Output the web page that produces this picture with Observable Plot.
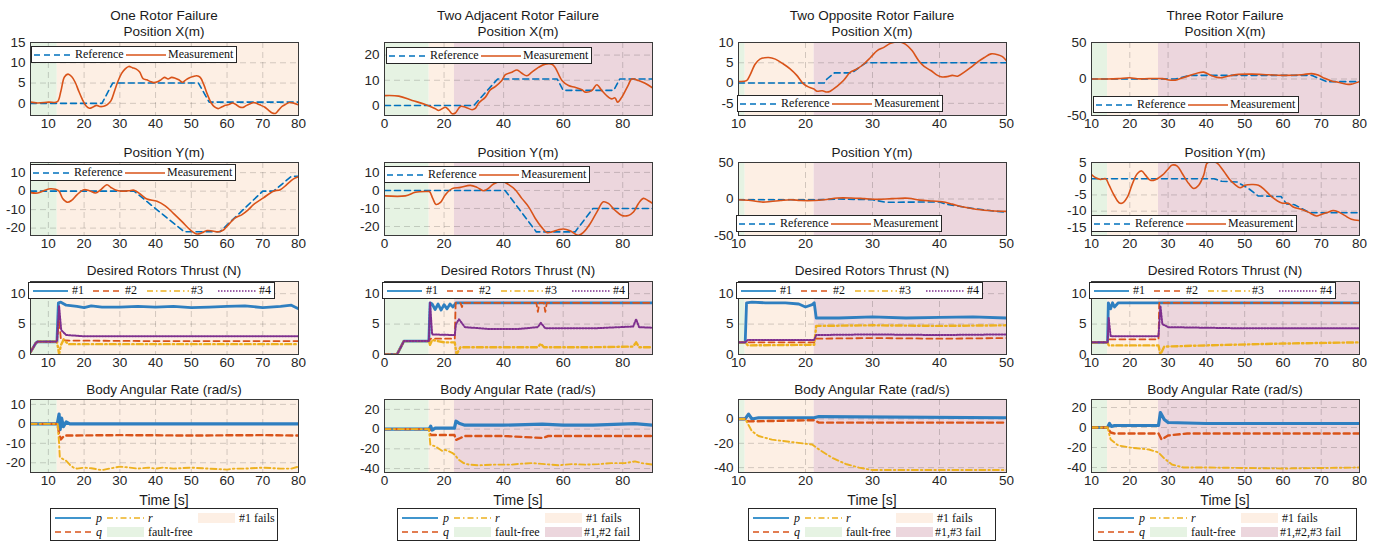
<!DOCTYPE html>
<html><head><meta charset="utf-8">
<script src="https://cdn.jsdelivr.net/npm/d3@7"></script>
<script src="https://cdn.jsdelivr.net/npm/@observablehq/plot@0.6"></script>
<style>
body{margin:0;background:#fff;}
#fig{position:relative;width:1383px;height:541px;overflow:hidden;font-family:"Liberation Sans",Arial,sans-serif;}
#fig svg.panel{position:absolute;}
.ttl{position:absolute;transform:translate(-50%,-50%);font-size:13.5px;color:#1a1a1a;white-space:nowrap;}
.lg{position:absolute;background:#fff;border:1px solid #262626;box-sizing:border-box;font-family:"Liberation Serif","Times New Roman",serif;font-size:12px;color:#111;}
.lg .it{position:absolute;white-space:nowrap;line-height:12px;}
.lg svg{position:absolute;}
</style></head><body><div id="fig"></div>
<script>
// ---------------- DATA ----------------
const colTitles = ["One Rotor Failure","Two Adjacent Rotor Failure","Two Opposite Rotor Failure","Three Rotor Failure"];
const rowTitles = ["Position X(m)","Position Y(m)","Desired Rotors Thrust (N)","Body Angular Rate (rad/s)"];
const phaseLabels = [["fault-free","#1 fails"],["fault-free","#1 fails","#1,#2 fail"],["fault-free","#1 fails","#1,#3 fail"],["fault-free","#1 fails","#1,#2,#3 fail"]];

// time domains, ticks and phase boundaries (s)
const xDomains = [[5,80],[0,90],[10,50],[10,80]];
const xTicks = [[10,20,30,40,50,60,70,80],[0,20,40,60,80],[10,20,30,40,50],[10,20,30,40,50,60,70,80]];
const phaseBounds = [[5,12.5,80],[0,15,23.5,90],[10,11,21.3,50],[10,14.2,27.5,80]];

// y domains and ticks, per row then column
const yDomains = [
  [[-3,15],[-4,25],[-8,10],[-50,50]],
  [[-24,15.5],[-25,15.5],[-50,50],[-17.5,5]],
  [[0,12],[0,12],[0,12],[0,12]],
  [[-25,12.5],[-44,30],[-44,16],[-45,28]]
];
const yTicks = [
  [[0,5,10,15],[0,10,20],[-5,0,5,10],[-50,0,50]],
  [[-20,-10,0,10],[-20,-10,0,10],[-50,0,50],[-15,-10,-5,0,5]],
  [[0,5,10],[0,5,10],[0,5,10],[0,5,10]],
  [[-20,-10,0,10],[-40,-20,0,20],[-40,-20,0],[-40,-20,0,20]]
];

// ---- Position X ----
const oneX_ref = [[5,0],[25,0],[28,5],[52,5],[55,0.3],[80,0.3]];
const oneX_meas = [[5,0.3],[7,0.1],[10,0.3],[12.5,0.4],[13.5,3],[14.5,6.5],[15.5,7.2],[16.5,6.6],[17.5,5.2],[18.5,3],[19.5,1],[20.5,-0.6],[21.5,-1.2],[22.5,-0.9],[23.5,-0.5],[24.5,-0.8],[25.5,-0.7],[26.5,-0.3],[27.5,0.6],[28.5,3],[29.5,5.5],[30.5,7.4],[31.5,8.5],[32.5,9.1],[33.5,8.8],[34.5,8.5],[35.5,7.8],[36.5,6.1],[37.5,5.8],[38.5,5.4],[39.5,5.1],[40.5,5.3],[41.5,5.8],[42.5,6.4],[43.5,6.0],[44.5,6.4],[45.5,6.2],[46.5,5.8],[47.5,5.2],[48.5,5.8],[49.5,6.3],[50.5,6.6],[51.5,6.8],[52.5,6.4],[53.5,4.6],[54.5,2.2],[55.5,0.2],[56.5,-0.9],[57.5,-1.3],[58.5,-0.9],[59.5,-0.5],[60.5,-0.3],[61.5,0.1],[62.5,-0.3],[63.5,-0.9],[64.5,-1.0],[65.5,-0.5],[66.5,-0.1],[67.5,0.2],[68.5,-0.1],[69.5,-0.5],[70.5,-0.9],[71.5,-1.6],[72.5,-2.3],[73.5,-2.5],[74.5,-1.6],[75.5,-0.7],[76.5,-0.2],[77.5,0.2],[78.5,0.1],[80,-0.4]];
const adjX_ref = [[0,0],[30,0],[38,10.5],[58,10.5],[60,6],[77,6],[79,10.5],[90,10.5]];
const adjX_meas = [[0,3.9],[4.8,3.7],[9.3,2],[13.7,0.4],[17.1,-1.3],[18.2,-2],[20.4,-0.7],[21.6,-1.8],[22.7,-3.3],[23.8,-3],[25.5,-0.4],[27.2,-0.7],[29.4,-1.7],[30.5,-1.2],[31.6,0.9],[33.9,3.3],[35.5,6.2],[37.2,7.5],[39.4,9.9],[40.6,12.2],[42.8,13.2],[44.5,14.1],[46.1,12.8],[47.8,11.8],[49.5,13.2],[51.7,15.1],[54,16.4],[56.2,16.4],[57.3,15.1],[59.6,9.9],[61.8,7.9],[64,7.2],[66.3,6.2],[67.4,5.3],[69.6,5.9],[71.3,8.2],[73,5.9],[75.2,3.3],[76.3,2.6],[77.4,3],[78.3,1.3],[79.7,3.3],[81.9,8.2],[83,10.5],[85.3,9.9],[87.5,8.8],[90,7]];
const oppX_ref = [[10,0],[22.8,0],[23.2,1],[24.3,2.5],[26.9,2.5],[29,5],[50,5]];
const oppX_meas = [[10,0.4],[11.2,0.6],[11.7,1.9],[12.5,4.7],[13.2,5.9],[14.5,6.3],[15.5,5.9],[16.7,4.7],[17.7,3.5],[18.7,1.9],[19.7,-0.2],[20.5,-1],[21.2,-1.4],[21.7,-2],[22.5,-1.9],[23.2,-2.2],[23.7,-2],[24.7,-0.8],[25.7,0.7],[26.7,2.7],[27.7,3.5],[28.7,4.7],[29.7,6.3],[30.7,8],[31.7,8.8],[32.7,9.8],[33.9,10.2],[34.9,9.6],[35.9,8],[36.9,5.5],[37.7,4.1],[38.7,3.1],[39.7,1.9],[40.4,1.5],[41.2,1.6],[41.9,1.9],[42.7,1.7],[43.7,2.7],[44.7,3.9],[45.7,5.2],[46.7,6.3],[47.7,7.2],[48.7,7],[49.4,6.5],[50,5.5]];
const thrX_ref = [[10,0],[31.9,0],[35.8,5],[67.5,5],[71.4,-3.6],[80,-3.6]];
const thrX_meas = [[10,0],[14,0],[17,0.5],[20,1.8],[22,0.3],[25,0.5],[28.5,0.5],[30.2,-1.3],[31.9,-1.5],[33.7,1.5],[35.8,5],[38,8.5],[39.3,9.4],[41,5.5],[42.8,2.2],[44.1,1.8],[45.8,4],[48.4,6.3],[51.9,6.7],[56.2,5.8],[60.5,4.9],[64.9,5.8],[67.5,7.4],[69.2,5.4],[70.9,0.9],[72.7,-2.7],[74.4,-4.5],[76.6,-7.2],[77.9,-7],[80,-3.5]];

// ---- Position Y ----
const oneY_ref = [[5,0],[34,0],[48,-22],[58,-22],[70,0],[73,0],[78,8],[80,8]];
const oneY_meas = [[5,-0.8],[7,-1],[9,0.5],[10.6,1.3],[12,1],[13,0],[14,-4],[15.3,-6],[16.5,-5],[18,-2],[19.9,0.8],[21.5,0.2],[23.2,-1],[24.5,0.5],[26.4,3.5],[27.5,2],[28.8,0.6],[30.5,0],[32.5,0.2],[34,0.5],[36,-2],[37.6,-4.3],[40.4,-5.5],[42.7,-8],[45,-12],[47.4,-16.5],[49.7,-21],[51.6,-23.2],[53,-22.5],[54.4,-21.3],[56,-21.6],[57.6,-22],[59,-21],[60,-19],[62.3,-14.5],[64.2,-12.7],[66,-10],[67.4,-7.3],[70.2,-3.6],[73,0],[74.9,0.8],[76.7,3.5],[78.5,6.5],[80,7.8]];
const adjY_ref = [[0,0],[40.5,0],[51,-23],[64,-23],[70,-10],[90,-10]];
const adjY_meas = [[0,-3],[7,-3],[10.4,-1],[14.3,-0.6],[15.1,-0.6],[16.2,-4.4],[17.3,-7.8],[18.8,-6.6],[20.4,-2.5],[22.7,1],[25.5,1.7],[28.8,2.8],[31.1,1.7],[33.3,-0.2],[35,1.3],[36.6,3.6],[39.4,5.1],[41.7,3.2],[43.9,0.4],[46.1,-4.4],[48.4,-9.1],[50.6,-15.4],[52.8,-20.5],[54.5,-23.3],[56.2,-23],[58.4,-21.8],[60.1,-21.4],[62.3,-22.4],[65.1,-24.9],[66.8,-23.3],[69,-18.6],[71.3,-12],[73.5,-6.3],[75.2,-7.2],[77.4,-11],[79.7,-13.9],[81.9,-13.9],[83.6,-12],[85.3,-7.2],[86.9,-4.4],[88.6,-5.7],[90,-7.2]];
const oppY_ref = [[10,-1],[22,-1],[25,0],[30,-1],[32,-4.5],[40,-4],[41,-7],[45,-13],[48,-16.5],[50,-18]];
const oppY_meas = [[10,-1],[11.8,-2],[13.5,-4.2],[14.8,-3.5],[16.3,-2],[17.8,-1],[19.3,-2],[21.3,-2],[22.8,-1],[24.8,1.4],[26.8,1.4],[28.8,0.5],[30.8,-0.5],[32.9,0.5],[35.4,1],[37,-1.5],[39,-2.8],[40.4,-3.7],[41.9,-7],[43.4,-10.7],[45.4,-14],[47.4,-15.8],[48.9,-16.7],[50,-17]];
const thrY_ref = [[10,0],[42,0],[44,-0.8],[48,-1],[51,-3],[53.5,-5.3],[59.5,-5.5],[61,-7.8],[63,-8],[67,-10.5],[80,-10.5]];
const thrY_meas = [[10,1.3],[11.1,0.3],[12.4,-0.2],[13.7,0],[14.6,-2],[15.9,-5.1],[17.2,-7.4],[18.1,-7.5],[19.4,-5.6],[20.7,-1.5],[22,1.6],[23.1,2.4],[24.1,1.1],[25.4,-0.5],[26.7,-0.3],[28.5,1.1],[29.8,2.7],[31.1,4.2],[32.4,3.9],[33.7,1.6],[35.4,-1.5],[36.7,-3],[38,-2],[39.3,1.1],[40.2,4.8],[41.5,5.3],[42.8,4.8],[44.5,2.4],[46.2,-0.4],[47.5,-1.8],[48.8,-2.8],[50.1,-2],[51.8,-1.8],[53.6,-2],[55.3,-3.5],[57.1,-5.6],[59.7,-7.5],[61.4,-7.6],[62.7,-8.7],[64.9,-9.5],[66.6,-10.3],[68.8,-11.5],[70,-11],[71.8,-10.3],[73.1,-9.8],[74.4,-10.2],[76.1,-11.3],[77.9,-12.5],[80,-12.9]];

// ---- Desired rotor thrust #1..#4 ----
const oneT1 = [[5,0.4],[6.5,1.9],[7,2.1],[12.4,2.1],[12.8,8.5],[13.5,8.6],[15,8.1],[18,7.9],[20,7.7],[22,8],[25,7.8],[30,7.8],[35,7.9],[40,7.8],[45,7.9],[50,7.7],[55,7.8],[60,7.9],[65,8],[70,7.7],[75,7.9],[78,8.1],[80,7.5]];
const oneT2 = [[5,0.4],[6.5,1.9],[7,2.1],[12.4,2.1],[13,6],[13.5,2.5],[15,2.3],[40,2.2],[80,2.2]];
const oneT3 = [[5,0.4],[6.5,1.9],[7,2.1],[12.4,2.1],[13,0.1],[13.5,1.5],[14.3,2.5],[15.5,1.7],[40,1.7],[80,1.7]];
const oneT4 = [[5,0.4],[6.5,1.9],[7,2.1],[12.4,2.1],[13,8],[13.6,4],[15,3.2],[20,3],[80,3]];
const adjT1 = [[0,0],[4.2,0],[6.5,2.2],[14.9,2.2],[15.3,8.5],[16,8.3],[17,7.4],[18,8.3],[19,7.3],[20,8.2],[21,7.5],[22,8.3],[23,7.8],[24,8.5],[90,8.5]];
const adjT2 = [[0,0],[4.2,0],[6.5,2.2],[14.9,2.2],[15.5,2.6],[23.6,2.6],[23.9,8.5],[25.5,8.5],[26,7.8],[26.6,8.5],[51,8.5],[51.5,7],[52,8.5],[53.5,8.5],[54,7],[54.5,8.5],[90,8.5]];
const adjT3 = [[0,0],[4.2,0],[6.5,2.2],[14.9,2.2],[15.3,1.6],[16,2.4],[20,2],[23.6,2],[24.2,0],[25.5,1.2],[40,1.2],[51.5,1.2],[52.5,1.8],[53.5,1.2],[70,1.2],[83.5,1.3],[84.5,2],[85.5,1.2],[90,1.2]];
const adjT4 = [[0,0],[4.2,0],[6.5,2.2],[14.9,2.2],[15.3,8.5],[16,3.3],[23.6,3.2],[24,5],[25,5.8],[27,4.5],[35,4.2],[45,4.2],[51.5,4.5],[52.5,5.2],[54,4.3],[70,4.3],[83.5,4.6],[84.5,5.8],[85.5,4.5],[90,4.4]];
const oppT1 = [[10,2],[11,2],[11.2,8.5],[12,8.6],[14,8.5],[17,8.5],[19,8.3],[20,7.8],[21,8.2],[21.3,8.5],[21.6,6],[25,6],[30,6.2],[35,6],[40,6.1],[45,6.2],[50,6]];
const oppT2 = [[10,2],[11,2],[11.4,2],[21.3,2],[21.6,2.6],[30,2.7],[40,2.6],[50,2.7]];
const oppT3 = [[10,2],[11,2],[11.4,1.5],[21.3,1.6],[21.6,4.7],[30,4.8],[40,4.7],[50,4.8]];
const oppT4 = [[10,2],[11,2],[11.4,2.4],[21.3,2.4],[21.6,3.2],[30,3.3],[40,3.2],[50,3.3]];
const thrT1 = [[10,2],[14.2,2],[14.4,8.5],[15,7.5],[15.5,8.5],[16,7.8],[17,8.5],[80,8.5]];
const thrT2 = [[10,2],[14.2,2],[14.5,2.5],[27.5,2.5],[27.7,8.5],[80,8.5]];
const thrT3 = [[10,2],[14.2,2],[14.5,1.5],[27.5,1.5],[28,0],[29,1.3],[40,1.5],[60,1.8],[80,2]];
const thrT4 = [[10,2],[14.2,2],[14.5,6],[15,3],[27.5,3],[28,8],[28.5,5],[30,4.5],[50,4.3],[80,4.3]];

// ---- Body angular rate p, q, r ----
const oneP = [[5,0],[12.5,0],[13,5],[13.3,-3],[13.7,3],[14.2,-1.5],[15,1],[16,0],[80,0]];
const oneQ = [[5,0],[12.5,0],[13,-5],[13.5,-8],[14.5,-6],[16,-6],[30,-5.8],[50,-6],[70,-5.8],[80,-6]];
const oneR = [[5,0],[12.6,0],[13,-10],[13.2,-17],[14,-18],[15,-19],[16,-21],[17,-22.5],[18,-23],[20,-22.5],[22,-22.8],[25,-23.8],[27,-23],[30,-22],[32,-22.3],[35,-23],[38,-22.5],[40,-23],[42,-22.5],[45,-23],[50,-22.5],[55,-23],[60,-23.5],[62,-23],[65,-23],[70,-22.5],[75,-23],[78,-23],[80,-22]];
const adjP = [[0,0],[15,0],[15.5,3],[16,-1],[17,1],[23.5,1],[24,8],[25,6],[27,4],[40,4],[53,5],[60,4],[70,4],[84,5.5],[90,4]];
const adjQ = [[0,0],[15,0],[15.5,-6],[17,-6],[23.5,-6],[24,-11],[25.5,-9],[27,-7],[40,-7],[53,-9],[55,-7],[70,-7],[90,-7]];
const adjR = [[0,0],[14.9,0],[15.4,-16],[17.1,-17.5],[19.3,-22],[20.4,-21],[22.7,-24],[23.6,-26],[24.9,-31],[26.6,-34.5],[28.3,-36],[31.6,-36.7],[37.2,-36],[42.8,-36],[46.1,-35],[49.5,-34.5],[54,-35.5],[58.4,-36.7],[62.9,-35.5],[67.4,-36],[71.8,-35.5],[76.3,-34.5],[80.8,-34.5],[84.1,-32.7],[86.4,-34.5],[90,-36]];
const oppP = [[10,0],[11,0],[11.5,4],[12,0],[13,1],[21.3,1],[22,2],[50,1]];
const oppQ = [[10,0],[11,0],[11.5,-2],[21.3,-1],[22,-3],[50,-3]];
const oppR = [[10,0],[11,0],[11.5,-5],[12,-10],[13,-14],[15,-17],[18,-19],[21,-21],[22,-25],[24,-32],[26,-37],[28,-40],[30,-42],[40,-42],[50,-42]];
const thrP = [[10,0],[14.2,0],[14.7,4],[15.2,1],[16,2],[27.5,2],[28,15],[29,8],[30,5],[40,4],[60,4],[80,4]];
const thrQ = [[10,0],[14.2,0],[15,-5],[16,-6],[27.5,-6],[28.3,-12],[30,-8],[35,-6],[80,-6]];
const thrR = [[10,0],[14.2,0],[15,-12],[17,-18],[20,-20],[25,-22],[27.5,-25],[29,-31],[31,-37],[34,-40],[40,-40],[60,-41],[80,-40]];

const seriesGrid = [
  [[oneX_ref,oneX_meas],[adjX_ref,adjX_meas],[oppX_ref,oppX_meas],[thrX_ref,thrX_meas]],
  [[oneY_ref,oneY_meas],[adjY_ref,adjY_meas],[oppY_ref,oppY_meas],[thrY_ref,thrY_meas]],
  [[oneT1,oneT2,oneT3,oneT4],[adjT1,adjT2,adjT3,adjT4],[oppT1,oppT2,oppT3,oppT4],[thrT1,thrT2,thrT3,thrT4]],
  [[oneP,oneQ,oneR],[adjP,adjQ,adjR],[oppP,oppQ,oppR],[thrP,thrQ,thrR]]
];

// ---------------- STYLE / LAYOUT ----------------
const BLUE="#0072BD", ORANGE="#D95319", YELLOW="#EDB120", PURPLE="#7E2F8E";
const PHASE=["#e6f3e3","#fdefe4","#ecd6dd"];
const posStyles=[{stroke:BLUE,dash:"6,4",w:1.6,curve:"linear"},{stroke:ORANGE,dash:null,w:1.6,curve:"catmull-rom"}];
const thrustStyles=[{stroke:"#2f7fc0",dash:null,w:2.8},{stroke:ORANGE,dash:"6,4",w:1.8},{stroke:YELLOW,dash:"6,3,1.5,3",w:2.4},{stroke:PURPLE,dash:"1.5,1.5",w:2}];
const rateStyles=[{stroke:"#2f7fc0",dash:null,w:3.2},{stroke:ORANGE,dash:"6,4",w:2.4},{stroke:YELLOW,dash:"6,3,1.5,3",w:1.9}];
const colLeft=[30,384,738,1091], rowTop=[42,162,281,399], AXW=268, AXH=73;
const ML=44, MR=10, MT=6, MB=24;

const fig=document.getElementById("fig");
function addText(txt,x,y,extra){const d=document.createElement("div");d.className="ttl";d.textContent=txt;d.style.left=x+"px";d.style.top=y+"px";if(extra)Object.assign(d.style,extra);fig.appendChild(d);}

for(let r=0;r<4;r++){
  for(let c=0;c<4;c++){
    const b=phaseBounds[c], marks=[];
    for(let i=0;i<b.length-1;i++) marks.push(Plot.rect([[b[i],b[i+1]]],{x1:d=>d[0],x2:d=>d[1],fill:PHASE[i]}));
    const gridOpts={stroke:"#000",strokeOpacity:0.17,strokeDasharray:"6,4"};
    marks.push(Plot.gridX(xTicks[c],gridOpts), Plot.gridY(yTicks[r][c],gridOpts));
    const ss=seriesGrid[r][c];
    const styles=r<2?posStyles:(r===2?thrustStyles:rateStyles);
    ss.forEach((s,i)=>{const st=styles[i];
      marks.push(Plot.line(s,{x:d=>d[0],y:d=>d[1],stroke:st.stroke,strokeWidth:st.w,strokeDasharray:st.dash||undefined,curve:st.curve||"linear",clip:true}));});
    marks.push(Plot.frame({stroke:"#3a3a3a",strokeWidth:1}));
    const svg=Plot.plot({
      width:ML+AXW+MR,height:MT+AXH+MB,marginLeft:ML,marginRight:MR,marginTop:MT,marginBottom:MB,
      style:{fontFamily:"'Liberation Sans',Arial,sans-serif",fontSize:"13.5px",color:"#262626",background:"transparent",overflow:"visible"},
      x:{domain:xDomains[c],ticks:xTicks[c],tickSize:0,tickPadding:3,tickFormat:d=>String(d),label:null},
      y:{domain:yDomains[r][c],ticks:yTicks[r][c],tickSize:0,tickPadding:5,tickFormat:d=>String(d),label:null},
      marks
    });
    svg.classList.add("panel");
    svg.style.left=(colLeft[c]-ML)+"px"; svg.style.top=(rowTop[r]-MT)+"px";
    fig.appendChild(svg);
  }
}
// titles
const colCenter=colLeft.map(l=>l+AXW/2);
colCenter.forEach((cx,c)=>{
  addText(colTitles[c],cx,15);
  addText(rowTitles[0],cx,31);
  addText(rowTitles[1],cx,152);
  addText(rowTitles[2],cx,270);
  addText(rowTitles[3],cx,389);
  addText("Time [s]",cx,500,{fontSize:"14px"});
});

// legends
function legend(left,top,w,h,entries){
  const box=document.createElement("div");box.className="lg";
  Object.assign(box.style,{left:left+"px",top:top+"px",width:w+"px",height:h+"px"});
  for(const e of entries){
    const len=e.x2-e.x1;
    const s=d3.create("svg").attr("width",len).attr("height",12).style("left",e.x1+"px").style("top",(e.cy-6)+"px");
    if(e.swatch) s.append("rect").attr("x",0).attr("y",1).attr("width",len).attr("height",10).attr("fill",e.color);
    else s.append("line").attr("x1",0).attr("x2",len).attr("y1",6).attr("y2",6).attr("stroke",e.color).attr("stroke-width",e.sw||1.6).attr("stroke-dasharray",e.dash||null);
    box.appendChild(s.node());
    const t=document.createElement("span");t.className="it";t.textContent=e.label;
    t.style.left=e.tx+"px";t.style.top=(e.cy-6.5)+"px";if(e.italic)t.style.fontStyle="italic";
    box.appendChild(t);
  }
  fig.appendChild(box);
}
const refMeasEntries=[
  {x1:2,x2:41,cy:7.5,color:BLUE,dash:"6,4",label:"Reference",tx:43},
  {x1:94,x2:134,cy:7.5,color:ORANGE,label:"Measurement",tx:136}
];
const posLegendPos=[[[31,46],[386,47],[737,95],[1093,96]],[[30,164],[384,166],[736,215],[1091,215]]];
for(let r=0;r<2;r++)for(let c=0;c<4;c++){const p=posLegendPos[r][c];legend(p[0],p[1],206,17,refMeasEntries);}
const thrustLabels=["#1","#2","#3","#4"];
const thrustEntries=thrustStyles.map((st,i)=>({x1:[4,64,118,189][i],x2:[39,94,160,227][i],cy:7.5,color:[BLUE,ORANGE,YELLOW,PURPLE][i],dash:st.dash,sw:1.6,label:thrustLabels[i],tx:[43,96,162,230][i]}));
colLeft.forEach(l=>legend(l-2,282,247,17,thrustEntries));

const rateLabels=["p","q","r"];
const legendW=[228,243,248,264];
colCenter.forEach((cx,c)=>{
  const w=legendW[c];
  const ent=[
    {x1:4,x2:40,cy:9,color:BLUE,label:rateLabels[0],tx:45,italic:true},
    {x1:4,x2:40,cy:23,color:ORANGE,dash:"6,4",label:rateLabels[1],tx:45,italic:true},
    {x1:56,x2:93,cy:9,color:YELLOW,dash:"6,3,1.5,3",label:rateLabels[2],tx:97,italic:true},
    {x1:56,x2:93,cy:23,color:PHASE[0],swatch:true,label:phaseLabels[c][0],tx:97},
    {x1:147,x2:184,cy:9,color:PHASE[1],swatch:true,label:phaseLabels[c][1],tx:188}
  ];
  if(phaseLabels[c][2]) ent.push({x1:147,x2:184,cy:23,color:PHASE[2],swatch:true,label:phaseLabels[c][2],tx:186});
  legend(Math.round(cx-w/2),508,w,33,ent);
});
</script></body></html>
